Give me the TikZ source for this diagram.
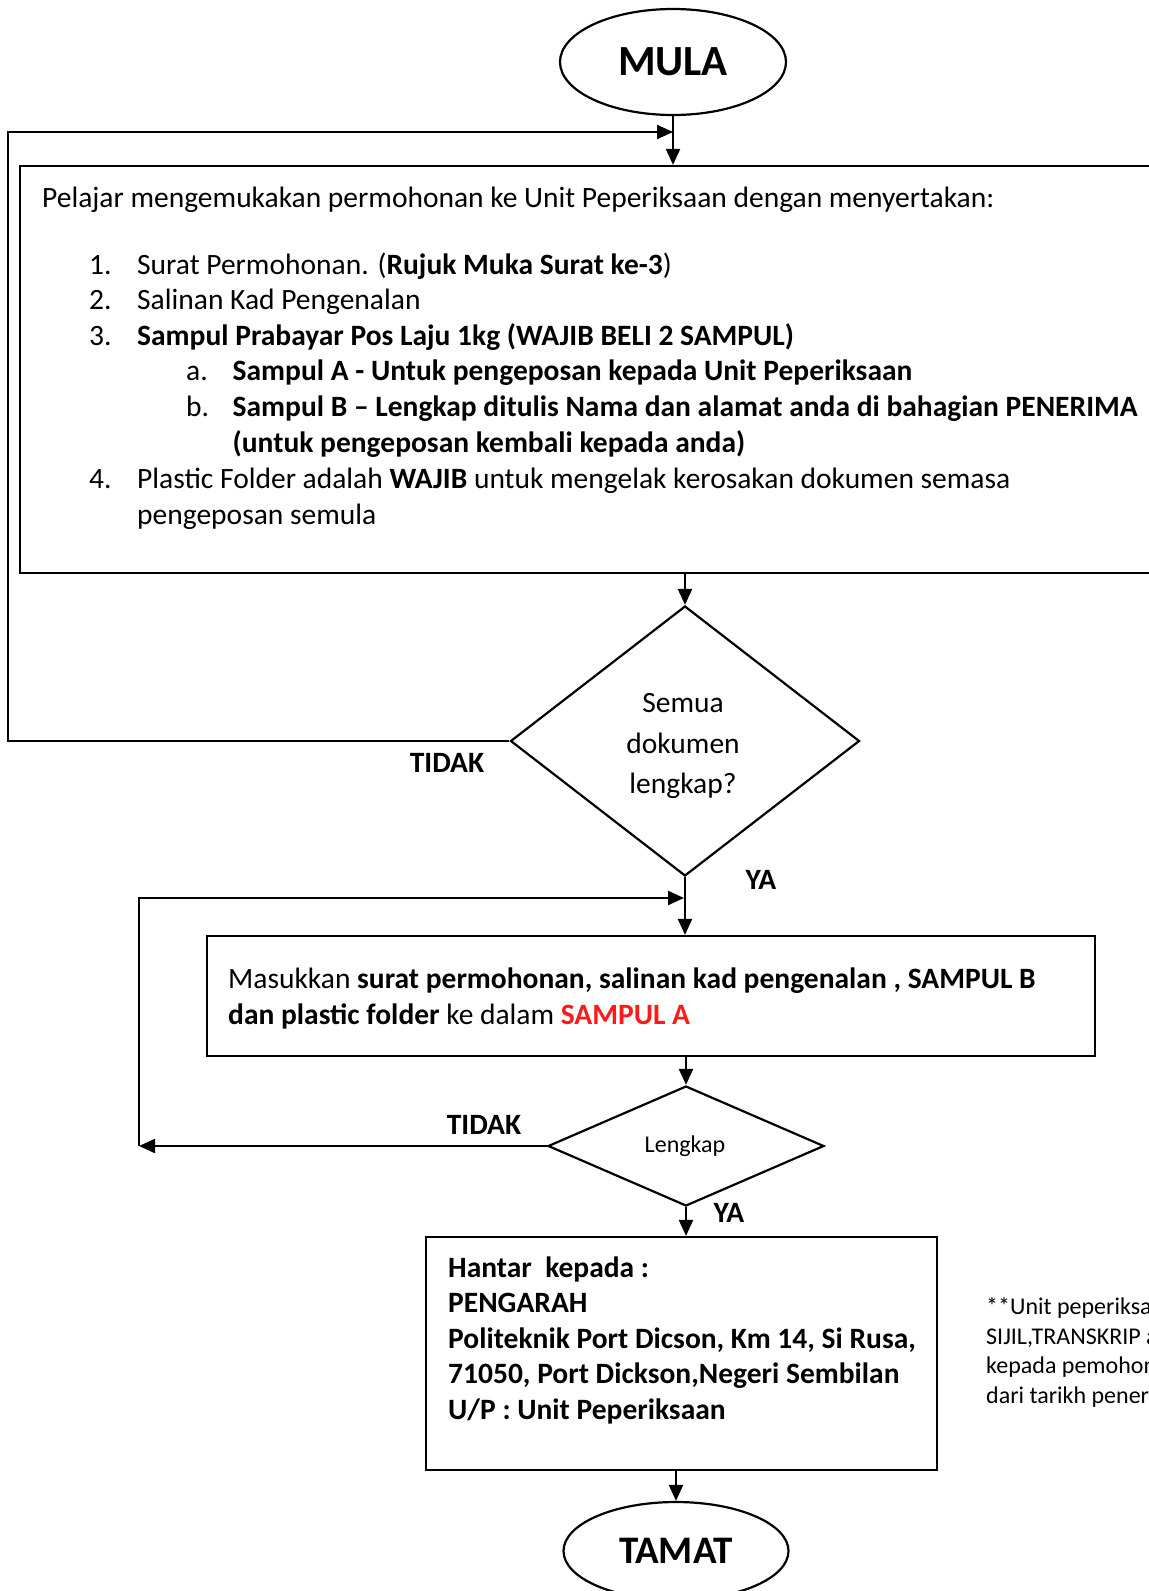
\documentclass[tikz,border=0pt]{standalone}
\usepackage{fontspec}
\setmainfont{Carlito}
\usepackage{xcolor}
\usetikzlibrary{shapes.geometric,arrows.meta}
\definecolor{ink}{HTML}{000000}
\definecolor{alert}{HTML}{FF1A1A}
\tikzset{
  flow/.style={draw=ink, line width=2.2pt},
  arr/.style={flow, -{Triangle[length=16pt,width=14pt]}},
  term/.style={ellipse, draw=ink, line width=2.2pt, inner sep=0pt, font=\fontsize{43}{50}\selectfont\bfseries},
  box/.style={rectangle, draw=ink, line width=2.2pt, inner sep=0pt},
  decide/.style={diamond, draw=ink, line width=2.2pt, inner sep=0pt},
  txt/.style={anchor=base west, inner sep=0pt, font=\fontsize{29.5}{35}\selectfont},
  btxt/.style={anchor=base west, inner sep=0pt, font=\fontsize{29.5}{35}\selectfont\bfseries},
  ans/.style={inner sep=0pt, font=\fontsize{29.5}{35}\selectfont\bfseries},
  note/.style={anchor=base west, inner sep=0pt, font=\fontsize{24}{29}\selectfont},
}

\begin{document}
\begin{tikzpicture}[x=1pt,y=-1pt]
  \useasboundingbox (0,0) rectangle (1149,1591);
  \fill[white] (0,0) rectangle (1149,1591);
  \clip (0,0) rectangle (1149,1591);

  % shapes
  \node[term, minimum width=226pt, minimum height=106pt] (mula) at (673,62) {MULA};
  \node[box, minimum width=1145pt, minimum height=407pt] (box1) at (592.5,369.5) {};
  \node[decide, minimum width=349pt, minimum height=270pt] (d1) at (685,741) {};
  \node[box, minimum width=888pt, minimum height=120pt] (box2) at (651,996) {};
  \node[decide, minimum width=276pt, minimum height=120pt] (d2) at (686,1146) {};
  \node[box, minimum width=511pt, minimum height=233pt] (box3) at (681.5,1353.5) {};
  \node[term, minimum width=225pt, minimum height=98pt, font=\fontsize{39}{45}\selectfont\bfseries] (tamat) at (676,1551) {TAMAT};

  % text of the first box
  \node[txt] (p0) at (42,207) {Pelajar mengemukakan permohonan ke Unit Peperiksaan dengan menyertakan:};
  \node[txt] (n1) at (89,274) {1.};
  \node[txt] (i1) at (137,274) {Surat Permohonan. (\textbf{Rujuk Muka Surat ke-3})};
  \node[txt] (n2) at (89,309.5) {2.};
  \node[txt] (i2) at (137,309.5) {Salinan Kad Pengenalan};
  \node[txt] (n3) at (89,345) {3.};
  \node[btxt] (i3) at (137,345) {Sampul Prabayar Pos Laju 1kg (WAJIB BELI 2 SAMPUL)};
  \node[txt] (na) at (186,380.5) {a.};
  \node[btxt] (ia) at (232.5,380.5) {Sampul A - Untuk pengeposan kepada Unit Peperiksaan};
  \node[txt] (nb) at (186,416) {b.};
  \node[btxt] (ib) at (232.5,416) {Sampul B -- Lengkap ditulis Nama dan alamat anda di bahagian PENERIMA};
  \node[btxt] (ib2) at (232.5,452.5) {(untuk pengeposan kembali kepada anda)};
  \node[txt] (n4) at (89,488) {4.};
  \node[txt] (i4) at (137,488) {Plastic Folder adalah \textbf{WAJIB} untuk mengelak kerosakan dokumen semasa};
  \node[txt] (i4b) at (137,524.5) {pengeposan semula};

  % decision texts
  \node[align=center, inner sep=0pt, font=\fontsize{29.5}{40.6}\selectfont] (q1) at (683,746) {Semua\\dokumen\\lengkap?};
  \node[inner sep=0pt, font=\fontsize{24}{29}\selectfont] (q2) at (685,1146) {Lengkap};

  % second box
  \node[txt] (m1) at (228,988.5) {Masukkan \textbf{surat permohonan, salinan kad pengenalan , SAMPUL B}};
  \node[txt] (m2) at (228,1024) {\textbf{dan plastic folder} ke dalam \textcolor{alert}{\textbf{SAMPUL A}}};

  % third box
  \node[btxt] (h1) at (448,1277) {Hantar\ \ kepada :};
  \node[btxt] (h2) at (448,1312) {PENGARAH};
  \node[btxt] (h3) at (448,1348) {Politeknik Port Dicson, Km 14, Si Rusa,};
  \node[btxt] (h4) at (448,1383) {71050, Port Dickson,Negeri Sembilan};
  \node[btxt] (h5) at (448,1419) {U/P : Unit Peperiksaan};

  % side note
  \node[note] (s1) at (986,1314) {**Unit peperiksaan};
  \node[note] (s2) at (986,1344) {SIJIL,TRANSKRIP akan};
  \node[note] (s3) at (986,1373) {kepada pemohon};
  \node[note] (s4) at (986,1403) {dari tarikh penerimaan};

  % answers
  \node[ans] (no1) at (447,763) {TIDAK};
  \node[ans] (yes1) at (761,880) {YA};
  \node[ans] (no2) at (484,1125) {TIDAK};
  \node[ans] (yes2) at (729,1213) {YA};

  % junctions and loop corners
  \coordinate (j1) at (673,132);
  \coordinate (lx1) at (8,0);
  \coordinate (j2) at (684,898);
  \coordinate (lx2) at (139,0);

  % connectors
  \draw[arr] (mula.south) -- (mula.south |- box1.north);
  \draw[arr] (d1.north |- box1.south) -- (d1.north);
  \draw[arr] (d1.south) -- (d1.south |- box2.north);
  \draw[arr] (d2.north |- box2.south) -- (d2.north);
  \draw[arr] (d2.south) -- (d2.south |- box3.north);
  \draw[arr] (tamat.north |- box3.south) -- (tamat.north);
  \draw[arr] (d1.west) -- (d1.west -| lx1) |- (j1);
  \draw[arr] (d2.west) -- (d2.west -| lx2);
  \draw[arr] (d2.west -| lx2) |- (j2);
\end{tikzpicture}
\end{document}
